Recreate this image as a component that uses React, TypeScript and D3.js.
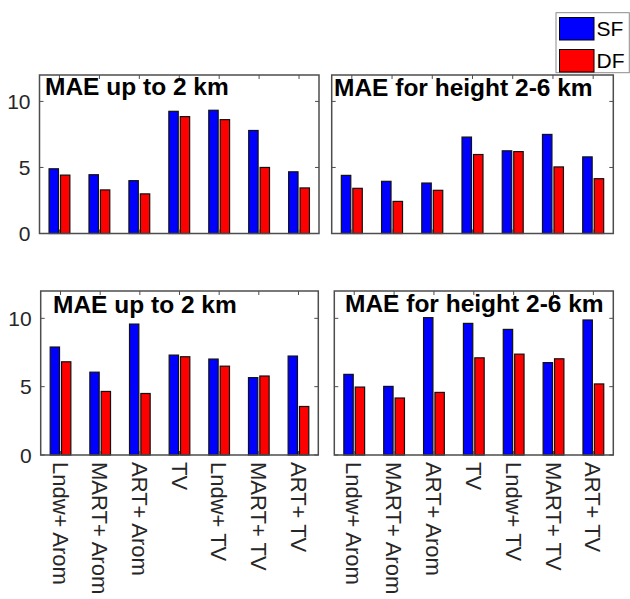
import React from "react";
import * as d3 from "d3";

// Method combinations on the x axis
const categories = [
  "Lndw+ Arom",
  "MART+ Arom",
  "ART+ Arom",
  "TV",
  "Lndw+ TV",
  "MART+ TV",
  "ART+ TV",
];

const seriesNames = ["SF", "DF"];
const seriesColors = ["#0000ff", "#ff0000"];

// Upper row
const sfUpTo2A = [4.9, 4.45, 4.0, 9.25, 9.33, 7.8, 4.67];
const dfUpTo2A = [4.42, 3.3, 3.0, 8.85, 8.62, 5.0, 3.45];
const sfHeight26A = [4.4, 3.95, 3.82, 7.3, 6.26, 7.5, 5.8];
const dfHeight26A = [3.42, 2.43, 3.27, 5.98, 6.2, 5.04, 4.15];

// Lower row
const sfUpTo2B = [7.9, 6.06, 9.58, 7.31, 7.02, 5.66, 7.24];
const dfUpTo2B = [6.82, 4.65, 4.5, 7.19, 6.5, 5.78, 3.55];
const sfHeight26B = [5.9, 5.02, 10.05, 9.63, 9.19, 6.76, 9.88];
const dfHeight26B = [4.97, 4.17, 4.58, 7.11, 7.38, 7.04, 5.2];

const yTicks = [0, 5, 10];
const yMax = 12;

const titles = [
  "MAE up to 2 km",
  "MAE for height 2-6 km",
  "MAE up to 2 km",
  "MAE for height 2-6 km",
];

const FONT = "'Liberation Sans', Arial, Helvetica, sans-serif";
const AXIS_COLOR = "#4d4d4d";
const TICK_TEXT = "#262626";

type Panel = {
  x0: number;
  x1: number;
  y0: number;
  y1: number;
  sf: number[];
  df: number[];
  title: string;
  titleX: number;
  titleY: number;
  showY: boolean;
  showX: boolean;
};

const panels: Panel[] = [
  { x0: 39.5, x1: 319, y0: 75, y1: 233.5, sf: sfUpTo2A, df: dfUpTo2A, title: titles[0], titleX: 45, titleY: 95, showY: true, showX: false },
  { x0: 331.7, x1: 613.3, y0: 75, y1: 233.5, sf: sfHeight26A, df: dfHeight26A, title: titles[1], titleX: 334, titleY: 96, showY: false, showX: false },
  { x0: 40.7, x1: 318.3, y0: 291, y1: 455, sf: sfUpTo2B, df: dfUpTo2B, title: titles[2], titleX: 53, titleY: 313, showY: true, showX: true },
  { x0: 334.3, x1: 613.3, y0: 291, y1: 455, sf: sfHeight26B, df: dfHeight26B, title: titles[3], titleX: 345, titleY: 312, showY: false, showX: true },
];

function BarPanel({ p }: { p: Panel }) {
  const x = d3.scaleBand<string>().domain(categories).range([p.x0, p.x1]).padding(0);
  const y = d3.scaleLinear().domain([0, yMax]).range([p.y1, p.y0]);
  const bw = x.bandwidth();
  const half = bw * 0.2605;
  const sub = d3
    .scaleBand<string>()
    .domain(seriesNames)
    .range([-half, half])
    .paddingInner(0.178)
    .paddingOuter(0);
  const values = [p.sf, p.df];
  const tickLen = 4;

  return (
    <g>
      {/* bars */}
      {categories.map((c, i) => {
        const cx = (x(c) ?? 0) + bw / 2;
        return seriesNames.map((s, k) => {
          const v = values[k][i];
          return (
            <rect
              key={c + s}
              x={cx + (sub(s) ?? 0)}
              y={y(v)}
              width={sub.bandwidth()}
              height={y(0) - y(v)}
              fill={seriesColors[k]}
              stroke="#111"
              strokeWidth={1.2}
            />
          );
        });
      })}

      {/* axes box */}
      <rect
        x={p.x0}
        y={p.y0}
        width={p.x1 - p.x0}
        height={p.y1 - p.y0}
        fill="none"
        stroke={AXIS_COLOR}
        strokeWidth={1.5}
      />

      {/* y ticks, both sides */}
      {yTicks.map((t) => (
        <g key={"yt" + t}>
          <line x1={p.x0} x2={p.x0 + tickLen} y1={y(t)} y2={y(t)} stroke={AXIS_COLOR} strokeWidth={1} />
          <line x1={p.x1} x2={p.x1 - tickLen} y1={y(t)} y2={y(t)} stroke={AXIS_COLOR} strokeWidth={1} />
          {p.showY && (
            <text
              x={p.x0 - 9}
              y={y(t)}
              dy="0.36em"
              textAnchor="end"
              fontFamily={FONT}
              fontSize={21}
              fill={TICK_TEXT}
            >
              {t}
            </text>
          )}
        </g>
      ))}

      {/* x ticks, top and bottom */}
      {categories.map((c) => {
        const cx = (x(c) ?? 0) + bw / 2;
        return (
          <g key={"xt" + c}>
            <line x1={cx} x2={cx} y1={p.y1} y2={p.y1 - tickLen} stroke={AXIS_COLOR} strokeWidth={1} />
            <line x1={cx} x2={cx} y1={p.y0} y2={p.y0 + tickLen} stroke={AXIS_COLOR} strokeWidth={1} />
            {p.showX && (
              <text
                transform={`translate(${cx},${p.y1 + 7}) rotate(90)`}
                dy="0.36em"
                textAnchor="start"
                fontFamily={FONT}
                fontSize={22}
                fill={TICK_TEXT}
              >
                {c}
              </text>
            )}
          </g>
        );
      })}

      {/* panel title */}
      <text x={p.titleX} y={p.titleY} fontFamily={FONT} fontWeight="bold" fontSize={24.5} fill="#000">
        {p.title}
      </text>
    </g>
  );
}

function Legend() {
  const lx = 556;
  const ly = 12.7;
  return (
    <g>
      <rect x={lx} y={ly} width={73.3} height={60} fill="#fff" stroke="#8c8c8c" strokeWidth={1} />
      {seriesNames.map((s, k) => (
        <g key={s}>
          <rect
            x={lx + 3.5}
            y={ly + 4.8 + k * 32}
            width={34.5}
            height={22.5}
            fill={seriesColors[k]}
            stroke="#000"
            strokeWidth={1}
          />
          <text
            x={lx + 40.5}
            y={ly + 16 + k * 32}
            dy="0.36em"
            fontFamily={FONT}
            fontSize={21}
            fill="#000"
          >
            {s}
          </text>
        </g>
      ))}
    </g>
  );
}

export default function App() {
  return (
    <svg
      width={630}
      height={599}
      style={{ position: "absolute", left: 0, top: 0, background: "#fff" }}
    >
      <rect width={630} height={599} fill="#fff" />
      {panels.map((p, i) => (
        <BarPanel key={i} p={p} />
      ))}
      <Legend />
    </svg>
  );
}
